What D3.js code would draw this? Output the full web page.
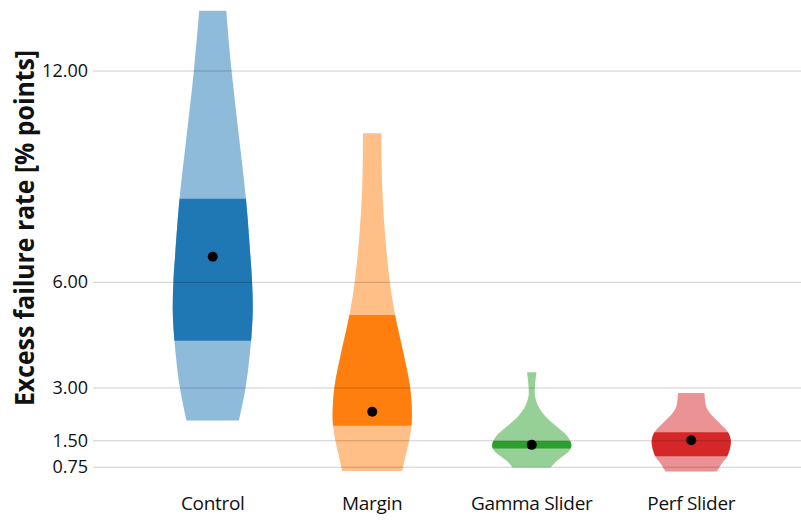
<!DOCTYPE html>
<html>
<head>
<meta charset="utf-8">
<script src="https://cdn.jsdelivr.net/npm/d3@7"></script>
<style>
  html, body { margin: 0; padding: 0; background: #fff; }
  svg { display: block; }
  text { font-family: "Open Sans", "Noto Sans", sans-serif; fill: #111; }
</style>
</head>
<body>
<svg id="chart" width="801" height="522"></svg>
<script>
// Groups shown along the x axis
const categories = ["Control", "Margin", "Gamma Slider", "Perf Slider"];
// Mean excess failure rate per group (% points)
const means = [6.71, 2.31, 1.37, 1.50];
// Lower and upper quartiles per group
const q1 = [4.33, 1.91, 1.27, 1.05];
const q3 = [8.36, 5.06, 1.48, 1.73];
// Y tick values
const yTicks = [0.75, 1.5, 3, 6, 12];
// Density profiles: [value, relative density] from min to max of each group
const densityControl = [[2.06, 0.655], [3.02, 0.825], [4.33, 0.958], [5.20, 1.0], [6.00, 0.983], [6.71, 0.943], [8.36, 0.83], [10.23, 0.645], [12.01, 0.47], [13.70, 0.338]];
const densityMargin = [[0.63, 0.75], [1.13, 0.85], [1.51, 0.925], [1.91, 0.98], [2.31, 0.99], [3.01, 0.945], [3.97, 0.78], [5.06, 0.57], [6.01, 0.438], [7.28, 0.325], [8.70, 0.25], [10.22, 0.23]];
const densityGamma = [[0.73, 0.475], [0.94, 0.65], [1.22, 0.95], [1.37, 0.99], [1.60, 0.90], [1.89, 0.625], [2.17, 0.35], [2.45, 0.17], [2.74, 0.083], [3.02, 0.08], [3.43, 0.118]];
const densityPerf = [[0.61, 0.64], [0.85, 0.77], [1.05, 0.90], [1.46, 0.99], [1.73, 0.92], [1.98, 0.72], [2.27, 0.47], [2.45, 0.375], [2.84, 0.33]];
const densities = [densityControl, densityMargin, densityGamma, densityPerf];
const colors = ["#1f77b4", "#ff7f0e", "#2ca02c", "#d62728"];

const svg = d3.select("#chart");
const W = 801, H = 522;
const plotLeft = 93, plotTop = 10, plotBottom = 493.1;

const x = d3.scaleBand().domain(categories).range([133, 771]).padding(0);
const y = d3.scaleLinear().domain([0, 13.72]).range([plotBottom, plotTop]);
const w = d3.scaleLinear().domain([0, 1]).range([0, 40]);

const defs = svg.append("defs");
const gViolins = svg.append("g");

categories.forEach((cat, i) => {
  const cx = x(cat) + x.bandwidth() / 2;
  const area = d3.area()
    .y(d => y(d[0]))
    .x0(d => cx - w(d[1]))
    .x1(d => cx + w(d[1]))
    .curve(d3.curveCatmullRom);
  const path = area(densities[i]);
  const base = d3.color(colors[i]);
  const light = d3.interpolateRgb("#ffffff", colors[i])(0.5);

  // full density shape, lightly tinted
  gViolins.append("path").attr("d", path).attr("fill", light);

  // interquartile part of the same shape in full colour
  const clipId = "iqr-" + i;
  defs.append("clipPath").attr("id", clipId)
    .append("rect")
    .attr("x", cx - 60).attr("width", 120)
    .attr("y", y(q3[i])).attr("height", y(q1[i]) - y(q3[i]));
  gViolins.append("path").attr("d", path).attr("fill", base.formatHex())
    .attr("clip-path", `url(#${clipId})`);
});

// Horizontal grid lines drawn over the violins
const yAxis = d3.axisLeft(y).tickValues(yTicks).tickFormat(d3.format(".2f"))
  .tickSize(-(W - plotLeft)).tickPadding(5);
const gy = svg.append("g").attr("transform", `translate(${plotLeft},0)`).call(yAxis);
gy.select(".domain").remove();
gy.selectAll(".tick line").attr("stroke", "#000").attr("stroke-opacity", 0.2).attr("stroke-width", 1);
gy.selectAll(".tick text").attr("font-size", 18).attr("fill", "#111")
  .attr("font-family", "'Open Sans', sans-serif");

// Mean markers
svg.append("g").selectAll("circle").data(categories).join("circle")
  .attr("cx", d => x(d) + x.bandwidth() / 2)
  .attr("cy", (d, i) => y(means[i]))
  .attr("r", 5).attr("fill", "#000");

// Category labels
const xAxis = d3.axisBottom(x).tickSize(0).tickPadding(0);
const gx = svg.append("g").attr("transform", "translate(0,496)").call(xAxis);
gx.select(".domain").remove();
gx.selectAll(".tick text").attr("font-size", 19).attr("fill", "#111")
  .attr("font-family", "'Open Sans', sans-serif").attr("dy", "0.71em")
  .attr("letter-spacing", "-0.3px");

// Y axis title
svg.append("text")
  .attr("transform", "translate(34,228) rotate(-90)")
  .attr("text-anchor", "middle")
  .attr("font-size", 26).attr("font-weight", "bold")
  .attr("textLength", 356).attr("lengthAdjust", "spacingAndGlyphs")
  .text("Excess failure rate [% points]");
</script>
</body>
</html>
